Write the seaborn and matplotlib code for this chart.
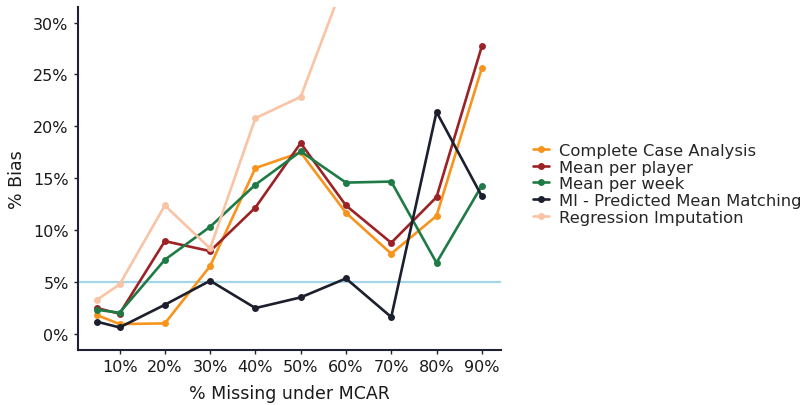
import matplotlib
matplotlib.use("Agg")
import matplotlib.pyplot as plt
import seaborn as sns
import pandas as pd
from matplotlib.ticker import FuncFormatter

missing = [5, 10, 20, 30, 40, 50, 60, 70, 80, 90]
complete_case = [1.86, 0.99, 1.06, 6.57, 16.0, 17.5, 11.7, 7.76, 11.4, 25.6]
mean_player = [2.53, 1.99, 8.97, 8.01, 12.2, 18.4, 12.4, 8.81, 13.2, 27.7]
mean_week = [2.37, 2.08, 7.18, 10.35, 14.4, 17.6, 14.6, 14.7, 6.89, 14.3]
mi_pmm = [1.22, 0.67, 2.85, 5.16, 2.53, 3.56, 5.38, 1.67, 21.4, 13.3]
regression = [3.33, 4.81, 12.4, 8.27, 20.8, 22.85, 34.4, 40.0, 45.0, 50.0]

methods = ["Complete Case Analysis", "Mean per player", "Mean per week",
           "MI - Predicted Mean Matching", "Regression Imputation"]
series = [complete_case, mean_player, mean_week, mi_pmm, regression]
colors = ["#F7941D", "#9B2226", "#1E7B45", "#1B1F2E", "#F9C4A5"]
x_ticks = [10, 20, 30, 40, 50, 60, 70, 80, 90]
y_ticks = [0, 5, 10, 15, 20, 25, 30]
threshold = 5

rows = []
for m, vals in zip(methods, series):
    for x, v in zip(missing, vals):
        rows.append({"missing": x, "bias": v, "method": m})
df = pd.DataFrame(rows)

sns.set_style("white")
plt.rcParams['font.family'] = ['DejaVu Sans']

fig = plt.figure(figsize=(8.01, 4.06), dpi=100)
ax = fig.add_axes([0.097, 0.1355, 0.5285, 0.845])

ax.axhline(threshold, color="#A6D5E8", linewidth=1.6, zorder=1)
sns.lineplot(data=df, x="missing", y="bias", hue="method", hue_order=methods,
             palette=colors, marker="o", markersize=5, markeredgewidth=0,
             linewidth=1.9, ax=ax, zorder=3)

ax.set_xlim(0.75, 94.25)
ax.set_ylim(-1.5, 31.5)
ax.set_xticks(x_ticks)
ax.set_yticks(y_ticks)
ax.xaxis.set_major_formatter(FuncFormatter(lambda v, p: f"{int(v)}%"))
ax.yaxis.set_major_formatter(FuncFormatter(lambda v, p: f"{int(v)}%"))
ax.set_xlabel("% Missing under MCAR", fontsize=12.5, color="#1a1a1a", labelpad=7)
ax.set_ylabel("% Bias", fontsize=12.5, color="#1a1a1a", labelpad=5)
ax.tick_params(axis="both", labelsize=11.5, colors="#1a1a1a", length=3,
               width=1, direction="out", left=True, bottom=True)
ax.tick_params(axis="both", color="#1f2133")
for s in ["top", "right"]:
    ax.spines[s].set_visible(False)
for s in ["left", "bottom"]:
    ax.spines[s].set_color("#1f2133")
    ax.spines[s].set_linewidth(1.5)

h, l = ax.get_legend_handles_labels()
ax.legend_.remove()
fig.legend(h, l, loc="center left", bbox_to_anchor=(0.655, 0.545),
           frameon=False, fontsize=11.8, handlelength=1.0, handletextpad=0.6,
           labelspacing=0.1, borderpad=0)

fig.savefig("out.png", dpi=100)
